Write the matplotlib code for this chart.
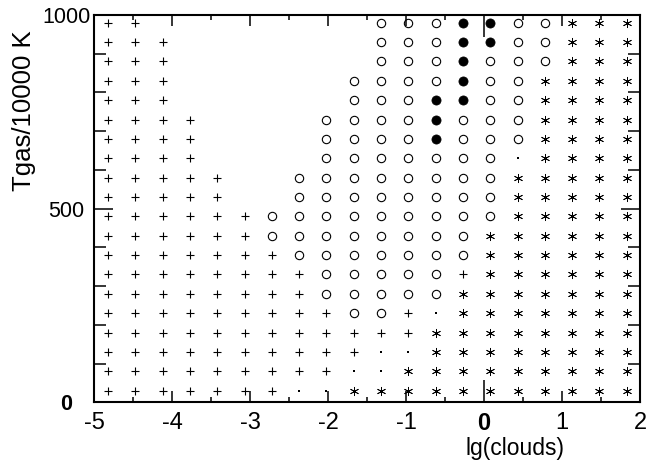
import matplotlib.pyplot as plt
import numpy as np

plt.rcParams['font.family'] = ['Liberation Sans', 'DejaVu Sans']

# grid columns (lg of cloud parameter) and rows (gas temperature), top row first
lg_clouds = [-4.82, -4.47, -4.12, -3.77, -3.42, -3.07, -2.72, -2.37, -2.02, -1.67,
             -1.32, -0.97, -0.62, -0.27, 0.08, 0.43, 0.78, 1.13, 1.48, 1.83]
tgas = [980, 930, 880, 830, 780, 730, 680, 630, 580, 530,
        480, 430, 380, 330, 280, 230, 180, 130, 80, 30]

# symbol found at each grid point: + plus, o open circle, @ filled circle,
# * asterisk, . dot, blank = nothing
regime = [
    "++        ooo@@oo***",
    "+++       ooo@@oo***",
    "+++       ooo@ooo***",
    "+++      oooo@oo****",
    "+++      ooo@@oo****",
    "++++    oooo@ooo****",
    "++++    oooo@ooo****",
    "++++    ooooooo.****",
    "+++++  oooooooo*****",
    "+++++  oooooooo*****",
    "++++++ooooooooo*****",
    "++++++oooooooo******",
    "+++++++ooooooo******",
    "++++++++ooooo+******",
    "++++++++ooooo*******",
    "+++++++++oo+.*******",
    "++++++++++++********",
    "++++++++++..********",
    "+++++++++..*********",
    "+++++++..***********",
]

xticks = [-5, -4, -3, -2, -1, 0, 1, 2]
xticklabels = ['-5', '-4', '-3', '-2', '-1', '0', '1', '2']
yticks = [0, 500, 1000]
yticklabels = ['0', '500', '1000']

styles = {
    '+': dict(marker='+', ms=6.3, mew=0.8, color='k'),
    'o': dict(marker='o', ms=6.0, mew=0.8, mfc='none', mec='k'),
    '@': dict(marker='o', ms=6.6, mew=0.5, mfc='k', mec='k'),
    '*': dict(marker=(6, 2, 0), ms=6.5, mew=0.6, color='k'),
    '.': dict(marker='s', ms=1.7, mew=0, color='k'),
}

fig = plt.figure(figsize=(6.61, 4.68), dpi=100)
ax = fig.add_axes([0.1422, 0.1404, 0.826, 0.8275])

grid = np.array([list(r) for r in regime])
X, Y = np.meshgrid(lg_clouds, tgas)
for sym, st in styles.items():
    m = grid == sym
    ax.plot(X[m], Y[m], linestyle='none', **st)

ax.set_xlim(-5, 2)
ax.set_ylim(0, 1000)
ax.set_xticks(xticks)
ax.set_xticklabels(xticklabels, fontsize=17)
ax.set_xticks(np.arange(-4.5, 2, 1.0), minor=True)
ax.set_yticks(yticks)
ax.set_yticklabels(yticklabels, fontsize=15.5)
ax.set_yticks(np.arange(100, 1000, 100), minor=True)

ax.tick_params(which='both', direction='in', top=True, right=True, width=1.1)
ax.tick_params(axis='x', which='major', length=8, pad=7)
ax.tick_params(axis='x', which='minor', length=3.6)
ax.tick_params(axis='y', which='major', length=13.5, pad=20)
ax.tick_params(axis='y', which='minor', length=8.5)
for lab in ax.get_yticklabels():
    lab.set_ha('center')
ax.get_xticklabels()[5].set_fontweight('bold')
ax.get_yticklabels()[0].set_fontweight('bold')

# the x = 0 tick is drawn extra long
t0 = ax.xaxis.get_major_ticks()[5]
t0.tick1line.set_markersize(16)
t0.tick2line.set_markersize(16)

for s in ax.spines.values():
    s.set_linewidth(1.5)

fig.text(515 / 661, 1 - 449 / 468, 'lg(clouds)', fontsize=16.5, ha='center', va='center')
fig.text(24 / 661, 1 - 111 / 468, 'Tgas/10000 K', fontsize=18.5, rotation=90,
         ha='center', va='center')

fig.savefig('out.png', dpi=100)
